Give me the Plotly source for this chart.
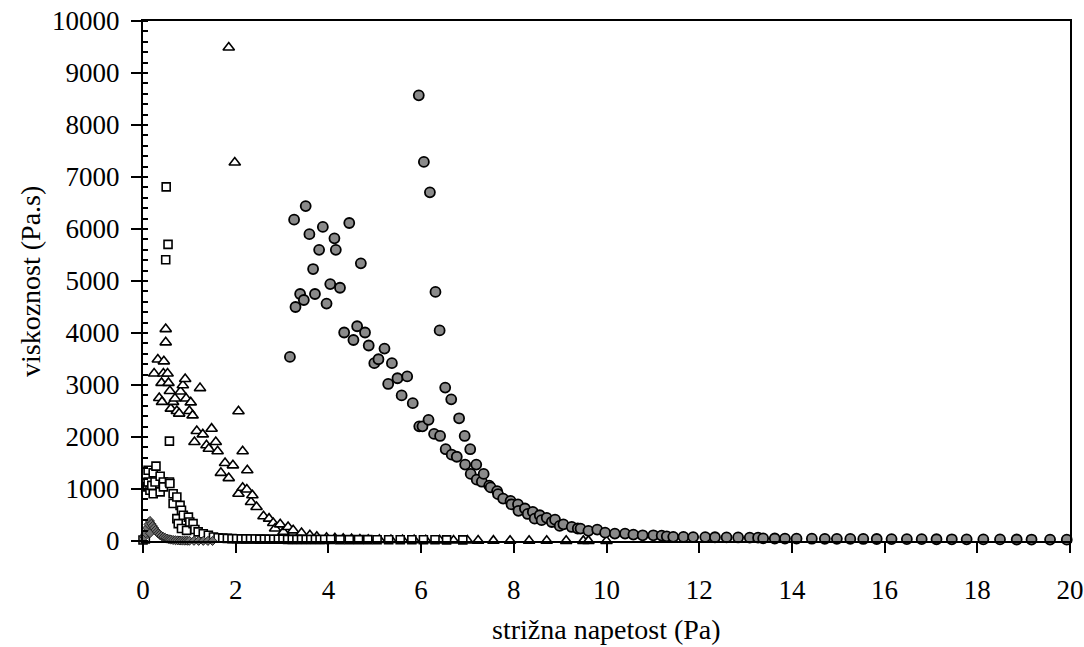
import plotly.graph_objects as go

# --- viscosity vs. shear stress, four samples ---

# sample with grey round markers
circ_x = [3.17, 3.26, 3.29, 3.39, 3.47, 3.51, 3.59, 3.67, 3.71, 3.80, 3.88, 3.96, 4.04, 4.13, 4.16, 4.25,
          4.34, 4.45, 4.54, 4.62, 4.70, 4.79, 4.87, 4.99, 5.08, 5.21, 5.29, 5.37, 5.49, 5.58, 5.70, 5.82,
          5.95, 5.96, 6.03, 6.06, 6.16, 6.19, 6.28, 6.31, 6.40, 6.41, 6.52, 6.53, 6.65, 6.66, 6.77, 6.82,
          6.94, 6.95, 7.06, 7.07, 7.19, 7.20, 7.31, 7.35, 7.47, 7.50, 7.64, 7.66, 7.77, 7.93, 7.95, 8.09,
          8.10, 8.24, 8.30, 8.41, 8.45, 8.56, 8.60, 8.71, 8.82, 8.89, 8.99, 9.07, 9.25, 9.38, 9.44, 9.61,
          9.80, 9.97, 10.18, 10.40, 10.58, 10.78, 11.01, 11.19, 11.30, 11.44, 11.66, 11.87, 12.13, 12.34,
          12.59, 12.84, 13.09, 13.27, 13.38, 13.63, 13.85, 14.10, 14.43, 14.71, 14.97, 15.26, 15.54, 15.83,
          16.15, 16.48, 16.80, 17.12, 17.45, 17.77, 18.13, 18.49, 18.85, 19.17, 19.57, 19.93]
circ_y = [3540, 6180, 4500, 4750, 4635, 6440, 5900, 5230, 4750, 5600, 6040, 4565, 4940, 5820, 5600, 4870,
          4010, 6115, 3865, 4130, 5340, 4010, 3760, 3420, 3495, 3700, 3020, 3420, 3130, 2800, 3165, 2650,
          8570, 2205, 2205, 7290, 2330, 6705, 2060, 4790, 4050, 2020, 2950, 1765, 2725, 1660, 1620, 2360,
          2020, 1470, 1765, 1290, 1470, 1180, 1140, 1290, 1065, 1030, 960, 900, 815, 770, 705, 705,
          580, 625, 520, 560, 430, 495, 400, 445, 365, 410, 290, 320, 270, 240, 238, 195,
          220, 160, 142, 142, 123, 110, 110, 104, 90, 80, 78, 76, 75, 72,
          70, 68, 66, 64, 50, 48, 46, 45, 44, 42, 41, 40, 39, 38,
          37, 36, 35, 34, 33, 32, 31, 30, 29, 28, 27, 26]

# sample with open triangles
tri_x = [0.24, 0.32, 0.35, 0.40, 0.41, 0.44, 0.45, 0.49, 0.49, 0.53, 0.55, 0.58, 0.60, 0.65, 0.69, 0.73,
         0.78, 0.81, 0.86, 0.91, 0.93, 1.00, 1.03, 1.07, 1.11, 1.16, 1.23, 1.29, 1.37, 1.42, 1.48, 1.57,
         1.61, 1.68, 1.77, 1.85, 1.85, 1.94, 1.98, 2.06, 2.06, 2.15, 2.15, 2.24, 2.25, 2.33, 2.36, 2.45,
         2.60, 2.72, 2.81, 2.85, 2.96, 3.03, 3.13, 3.24, 3.42, 3.60, 3.75, 3.96, 4.14, 4.32, 4.50, 4.68,
         4.86, 5.10, 5.35, 5.60, 5.85, 6.10, 6.40, 6.70, 7.00, 7.23, 7.56, 7.92, 8.33, 8.71, 9.13, 9.50,
         9.61, 10.00]
tri_y = [3220, 3490, 2750, 3040, 2675, 3220, 3455, 3820, 4075, 3220, 3040, 2885, 2545, 2675, 2740, 2500,
         2450, 2875, 2995, 3115, 2740, 2500, 2665, 2415, 1905, 2115, 2940, 2050, 1840, 1775, 2160, 1905,
         1725, 1310, 1500, 9490, 1210, 1455, 7280, 2495, 910, 1725, 1025, 990, 1360, 750, 880, 655,
         475, 430, 345, 240, 320, 175, 270, 205, 155, 110, 80, 60, 50, 42, 36, 30,
         25, 22, 20, 18, 16, 14, 12, 10, 9, 8, 7, 6, 5, 4, 3, 2,
         2, 1]

# sample with open squares
sq_x = [0.00, 0.05, 0.10, 0.11, 0.11, 0.15, 0.19, 0.22, 0.22, 0.26, 0.28, 0.37, 0.37, 0.44, 0.44, 0.49,
        0.50, 0.54, 0.57, 0.57, 0.58, 0.65, 0.65, 0.73, 0.73, 0.76, 0.80, 0.83, 0.83, 0.87, 0.94, 0.98,
        1.01, 1.08, 1.12, 1.19, 1.30, 1.41, 1.52, 1.62, 1.72, 1.82, 1.92, 2.02, 2.12, 2.22, 2.32, 2.42,
        2.52, 2.62, 2.72, 2.82, 2.92, 3.02, 3.12, 3.22, 3.32, 3.42, 3.52, 3.62, 3.72, 3.82, 3.92, 4.05,
        4.25, 4.45, 4.65, 4.85, 5.05, 5.30, 5.55, 5.80, 6.05, 6.30, 6.55, 6.90]
sq_y = [20, 40, 1040, 1360, 1135, 975, 1070, 1310, 910, 1135, 1440, 1245, 945, 1135, 1040, 5410,
        6810, 5705, 1920, 1135, 1105, 910, 720, 845, 430, 335, 685, 590, 240, 495, 205, 460,
        365, 335, 220, 175, 140, 110, 78, 62, 55, 50, 46, 43, 41, 40, 39, 38,
        37, 36, 35, 34, 33, 33, 32, 32, 31, 31, 30, 30, 29, 29, 28, 28,
        27, 27, 26, 26, 25, 25, 24, 24, 23, 23, 22, 22]

# sample with small grey diamonds
dia_x = [0.03, 0.06, 0.09, 0.12, 0.15, 0.15, 0.18, 0.21, 0.24, 0.27, 0.30, 0.33, 0.36, 0.40, 0.44, 0.48,
         0.52, 0.56, 0.60, 0.65, 0.70, 0.75, 0.80, 0.85, 0.90, 0.95, 1.00, 1.10, 1.20, 1.30, 1.40, 1.50]
dia_y = [80, 150, 250, 320, 385, 150, 330, 290, 250, 210, 175, 145, 120, 95, 75, 60,
         45, 35, 28, 20, 15, 12, 10, 8, 7, 6, 5, 4, 3, 3, 2, 2]

x_ticks = [0, 2, 4, 6, 8, 10, 12, 14, 16, 18, 20]
y_ticks = [0, 1000, 2000, 3000, 4000, 5000, 6000, 7000, 8000, 9000, 10000]

x_title = "strižna napetost (Pa)"
y_title = "viskoznost (Pa.s)"

FONT = "Liberation Serif"

fig = go.Figure()
fig.add_trace(go.Scatter(
    x=tri_x, y=tri_y, mode="markers", cliponaxis=False,
    marker=dict(symbol="triangle-up", size=10, color="white",
                line=dict(color="black", width=1.6))))
fig.add_trace(go.Scatter(
    x=sq_x, y=sq_y, mode="markers", cliponaxis=False,
    marker=dict(symbol="square", size=8, color="white",
                line=dict(color="black", width=1.6))))
fig.add_trace(go.Scatter(
    x=circ_x, y=circ_y, mode="markers", cliponaxis=False,
    marker=dict(symbol="circle", size=10, color="#8a8a8a",
                line=dict(color="black", width=1.8))))
fig.add_trace(go.Scatter(
    x=dia_x, y=dia_y, mode="markers", cliponaxis=False,
    marker=dict(symbol="diamond", size=7, color="#6e6e6e",
                line=dict(color="#222222", width=1))))

fig.update_layout(
    width=1084, height=647,
    margin=dict(l=143, r=14, t=21, b=106, autoexpand=False),
    paper_bgcolor="white", plot_bgcolor="white",
    showlegend=False,
    font=dict(family=FONT, size=27, color="black"),
    annotations=[
        dict(text=x_title, xref="paper", yref="paper", x=0.5, y=-0.17,
             xanchor="center", yanchor="middle", showarrow=False,
             font=dict(family=FONT, size=28, color="black")),
        dict(text=y_title, xref="paper", yref="paper", x=-0.1219, y=0.5,
             xanchor="center", yanchor="middle", showarrow=False, textangle=-90,
             font=dict(family=FONT, size=28, color="black")),
    ],
)
fig.update_xaxes(
    range=[0, 20], tickvals=x_ticks, ticktext=[str(v) for v in x_ticks],
    showgrid=False, zeroline=False, automargin=False,
    showline=True, linecolor="black", linewidth=2, mirror=True,
    ticks="outside", ticklen=10, tickwidth=1.5, tickcolor="black",
    ticklabelstandoff=14,
    tickfont=dict(family=FONT, size=27),
)
fig.update_yaxes(
    range=[0, 10000], tickvals=y_ticks, ticktext=[str(v) for v in y_ticks],
    showgrid=False, zeroline=False, automargin=False,
    showline=True, linecolor="black", linewidth=2, mirror=True,
    ticks="outside", ticklen=10, tickwidth=1.5, tickcolor="black",
    ticklabelstandoff=6,
    minor=dict(dtick=200, ticks="inside", ticklen=5, tickwidth=1.5, tickcolor="black", showgrid=False),
    tickfont=dict(family=FONT, size=27),
)

fig.write_html("out.html")
